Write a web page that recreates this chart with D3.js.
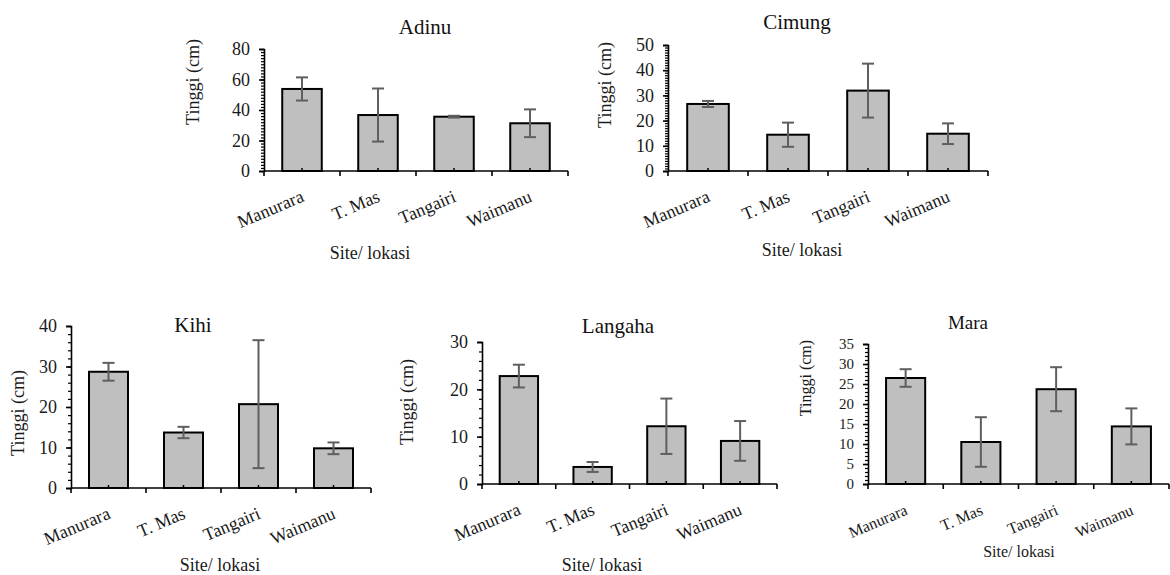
<!DOCTYPE html>
<head>
<meta charset="utf-8">
<script src="https://d3js.org/d3.v7.min.js"></script>
<style>
body { margin:0; background:#fff; }
svg text { font-family: "Liberation Serif", "Times New Roman", serif; fill:#1a1a1a; }
.axis path, .axis line { stroke:#000; stroke-width:1.6; }
.minor path { display:none; }
.minor line { stroke:#000; stroke-width:1.2; }
</style>
</head>
<body>
<svg width=1170 height=575></svg>
<script>
// site names on the x axis
var sites = ["Manurara", "T. Mas", "Tangairi", "Waimanu"];

// mean height (cm) and error per site
var adinuMean = [53.8, 36.7, 35.6, 31.3];
var adinuErr = [7.6, 17.4, 0.6, 9.1];
var cimungMean = [26.6, 14.4, 31.9, 14.8];
var cimungErr = [1.2, 4.8, 10.7, 4.1];
var kihiMean = [28.7, 13.7, 20.7, 9.8];
var kihiErr = [2.2, 1.4, 15.8, 1.45];
var langahaMean = [22.8, 3.6, 12.2, 9.1];
var langahaErr = [2.4, 1.05, 5.85, 4.2];
var maraMean = [26.5, 10.5, 23.7, 14.4];
var maraErr = [2.2, 6.2, 5.5, 4.5];

// y tick labels
var adinuTicks = [0, 20, 40, 60, 80];
var cimungTicks = [0, 10, 20, 30, 40, 50];
var kihiTicks = [0, 10, 20, 30, 40];
var langahaTicks = [0, 10, 20, 30];
var maraTicks = [0, 5, 10, 15, 20, 25, 30, 35];

var svg = d3.select("svg");
var serif = '"Liberation Serif", "Times New Roman", serif';

var panels = [
  {title:"Adinu", mean:adinuMean, err:adinuErr, ticks:adinuTicks, minor:2,
   x0:264, x1:568, y0:171, y1:49, tx:425, ty:34, lx:193, ly:82, sx:370, sy:259, fs:18, cs:18, ts:21, as:18},
  {title:"Cimung", mean:cimungMean, err:cimungErr, ticks:cimungTicks, minor:1,
   x0:668, x1:988, y0:171, y1:45, tx:797, ty:29, lx:605, ly:85, sx:802, sy:256, fs:18, cs:18, ts:21, as:18},
  {title:"Kihi", mean:kihiMean, err:kihiErr, ticks:kihiTicks, minor:2,
   x0:71, x1:371, y0:488, y1:326, tx:193, ty:332, lx:18, ly:413, sx:220, sy:571, fs:18, cs:18, ts:21, as:18},
  {title:"Langaha", mean:langahaMean, err:langahaErr, ticks:langahaTicks, minor:2,
   x0:482, x1:777, y0:484, y1:342, tx:618, ty:333, lx:407, ly:402, sx:602, sy:571, fs:18, cs:18, ts:21, as:18},
  {title:"Mara", mean:maraMean, err:maraErr, ticks:maraTicks, minor:1,
   x0:868, x1:1169, y0:484, y1:344, tx:968, ty:329, lx:805, ly:378, sx:1019, sy:557, fs:15, cs:16, ts:19, as:16}
];

panels.forEach(drawPanel);

function drawPanel(p) {
  var ymax = d3.max(p.ticks);
  var x = d3.scaleBand().domain(sites).range([p.x0, p.x1])
    .paddingInner(0.48).paddingOuter(0.24);
  var y = d3.scaleLinear().domain([0, ymax]).range([p.y0, p.y1]);
  var g = svg.append("g");
  var step = x.step();

  // bars
  g.selectAll(".bar").data(sites).enter().append("rect")
    .attr("x", d => x(d))
    .attr("width", x.bandwidth())
    .attr("y", (d, i) => y(p.mean[i]))
    .attr("height", (d, i) => y(0) - y(p.mean[i]))
    .style("fill", "#bfbfbf")
    .style("stroke", "#000")
    .style("stroke-width", 2);

  // error bars
  var eb = g.selectAll(".err").data(sites).enter().append("g")
    .attr("transform", d => "translate(" + (x(d) + x.bandwidth() / 2) + ",0)");
  eb.append("line")
    .attr("y1", (d, i) => y(p.mean[i] + p.err[i]))
    .attr("y2", (d, i) => y(p.mean[i] - p.err[i]));
  eb.append("line").attr("x1", -6).attr("x2", 6)
    .attr("y1", (d, i) => y(p.mean[i] + p.err[i]))
    .attr("y2", (d, i) => y(p.mean[i] + p.err[i]));
  eb.append("line").attr("x1", -6).attr("x2", 6)
    .attr("y1", (d, i) => y(p.mean[i] - p.err[i]))
    .attr("y2", (d, i) => y(p.mean[i] - p.err[i]));
  eb.selectAll("line").style("stroke", "#5f5f5f").style("stroke-width", 2);

  // small marks at bar centres
  g.selectAll(".cmark").data(sites).enter().append("line")
    .attr("x1", d => x(d) + x.bandwidth() / 2).attr("x2", d => x(d) + x.bandwidth() / 2)
    .attr("y1", p.y0).attr("y2", p.y0 - 3)
    .style("stroke", "#000").style("stroke-width", 1.5);

  // minor y ticks
  g.append("g").attr("class", "minor")
    .attr("transform", "translate(" + p.x0 + ",0)")
    .call(d3.axisLeft(y).tickValues(d3.range(0, ymax + 0.001, p.minor)).tickSize(3).tickFormat(""));

  // y axis
  var ya = g.append("g").attr("class", "axis")
    .attr("transform", "translate(" + p.x0 + ",0)")
    .call(d3.axisLeft(y).tickValues(p.ticks).tickSize(5).tickPadding(9).tickFormat(d3.format("d")));
  ya.selectAll("text").style("font-size", p.fs + "px").style("font-family", serif).style("fill", "#1a1a1a");

  // x axis
  var xa = g.append("g").attr("class", "axis");
  xa.append("line").attr("x1", p.x0).attr("x2", p.x1).attr("y1", p.y0).attr("y2", p.y0);
  xa.selectAll(".xt").data(d3.range(0, sites.length + 1)).enter().append("line")
    .attr("x1", d => p.x0 + d * step).attr("x2", d => p.x0 + d * step)
    .attr("y1", p.y0).attr("y2", p.y0 + 5);
  xa.selectAll("text").data(sites).enter().append("text")
    .attr("transform", d => "translate(" + (x(d) + x.bandwidth() / 2 + 3) + "," + (p.y0 + 30) + ") rotate(-23)")
    .attr("text-anchor", "end")
    .style("font-size", p.cs + "px").style("font-family", serif)
    .text(d => d);

  // titles
  g.append("text").attr("x", p.tx).attr("y", p.ty).attr("text-anchor", "middle")
    .style("font-size", p.ts + "px").style("font-family", serif).style("fill", "#111").text(p.title);
  g.append("text").attr("transform", "translate(" + p.lx + "," + p.ly + ") rotate(-90)")
    .attr("text-anchor", "middle").attr("dy", "0.35em")
    .style("font-size", p.as + "px").style("font-family", serif).text("Tinggi (cm)");
  g.append("text").attr("x", p.sx).attr("y", p.sy).attr("text-anchor", "middle")
    .style("font-size", p.as + "px").style("font-family", serif).text("Site/ lokasi");
}
</script>
</body>
